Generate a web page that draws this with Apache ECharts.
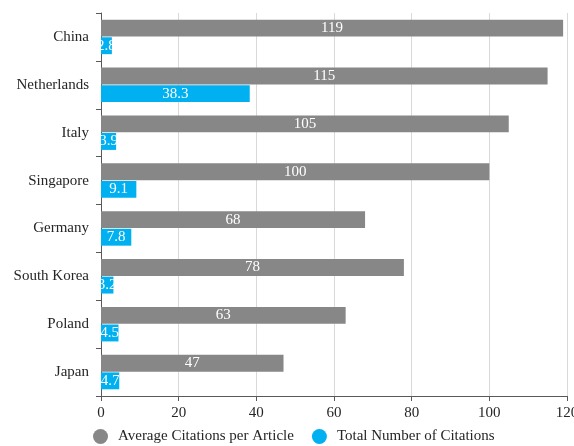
<!DOCTYPE html>
<html><head><meta charset="utf-8">
<script src="https://cdn.jsdelivr.net/npm/echarts@6/dist/echarts.min.js"></script>
<style>html,body{margin:0;padding:0;background:#fff}#c{width:574px;height:446px}</style>
</head><body><div id="c"></div>
<script>
const categories = ["China","Netherlands","Italy","Singapore","Germany","South Korea","Poland","Japan"];
const avgCitations = [119,115,105,100,68,78,63,47];
const totalCitations = [2.8,38.3,3.9,9.1,7.8,3.2,4.5,4.7];
const xTicks = {min:0,max:120,interval:20};
const font = "'Liberation Serif','Times New Roman',serif";
const chart = echarts.init(document.getElementById('c'));
chart.setOption({
  animation:false,
  textStyle:{fontFamily:font},
  grid:{left:101,right:7,top:13,bottom:50,outerBoundsMode:'none',containLabel:false},
  legend:{top:424,left:88,icon:'circle',itemWidth:15,itemHeight:15,itemGap:18,
    textStyle:{fontFamily:font,fontSize:15,color:'#262626',padding:[0,0,0,5]}},
  xAxis:{type:'value',min:xTicks.min,max:xTicks.max,interval:xTicks.interval,
    axisLine:{show:true,lineStyle:{color:'#595959'}},
    axisTick:{show:true,lineStyle:{color:'#595959'}},
    axisLabel:{fontFamily:font,fontSize:15,color:'#262626',margin:10},
    splitLine:{show:true,lineStyle:{color:'#d9d9d9'}}},
  yAxis:{type:'category',data:categories,inverse:true,
    axisLine:{show:true,lineStyle:{color:'#595959'}},
    axisTick:{show:true,lineStyle:{color:'#595959'}},
    axisLabel:{fontFamily:font,fontSize:15,color:'#262626',margin:12}},
  series:[
    {name:'Average Citations per Article',type:'bar',data:avgCitations,
     itemStyle:{color:'#878787'},barGap:'4%',barCategoryGap:'28%',
     label:{show:true,position:'inside',color:'#fff',fontFamily:font,fontSize:15}},
    {name:'Total Number of Citations',type:'bar',data:totalCitations,
     itemStyle:{color:'#00b0f0'},
     label:{show:true,position:'inside',color:'#fff',fontFamily:font,fontSize:15}}
  ]
});
</script></body></html>
